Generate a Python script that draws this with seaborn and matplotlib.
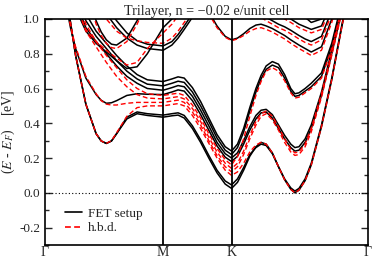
import pandas as pd
import matplotlib
matplotlib.use("Agg")
import matplotlib.pyplot as plt
from matplotlib.lines import Line2D
from matplotlib.ticker import MultipleLocator, FormatStrFormatter
import seaborn as sns

# high-symmetry points (hexagonal BZ, path G-M-K-G)
k_M = 0.577
k_K = 0.911
k_G2 = 1.577
tick_pos = [0.0, k_M, k_K, k_G2]
tick_lab = ["Γ", "M", "K", "Γ"]

k_path = [0.0, 0.05, 0.10, 0.125, 0.15, 0.20, 0.25, 0.275, 0.30, 0.325, 0.35, 0.40, 0.45, 0.50, 0.577,
          0.62, 0.65, 0.68, 0.72, 0.76, 0.80, 0.84, 0.88, 0.911,
          0.94, 0.97, 1.00, 1.03, 1.055, 1.08, 1.11, 1.14, 1.17, 1.20, 1.22, 1.24, 1.27, 1.30,
          1.35, 1.40, 1.45, 1.50, 1.577]

# FET setup bands (eV)
fet_1 = [2.3, 1.7, 1.19, 0.98, 0.79, 0.51, 0.34, 0.298, 0.284, 0.298, 0.34, 0.425, 0.455, 0.445, 0.435,
         0.443, 0.447, 0.43, 0.37, 0.29, 0.20, 0.115, 0.05, 0.025,
         0.06, 0.13, 0.21, 0.265, 0.29, 0.28, 0.23, 0.15, 0.075, 0.02, 0.0, 0.015, 0.07, 0.16,
         0.38, 0.65, 0.96, 1.25, 1.6]
fet_2 = [2.3, 1.7, 1.19, 0.98, 0.79, 0.51, 0.34, 0.298, 0.284, 0.298, 0.34, 0.435, 0.465, 0.455, 0.447,
         0.455, 0.46, 0.445, 0.385, 0.305, 0.215, 0.13, 0.068, 0.045,
         0.08, 0.145, 0.22, 0.26, 0.28, 0.272, 0.225, 0.15, 0.08, 0.028, 0.01, 0.025, 0.08, 0.17,
         0.39, 0.66, 0.97, 1.26, 1.6]
fet_3 = [1.5, 1.4, 1.1, 0.95, 0.83, 0.66, 0.565, 0.532, 0.515, 0.518, 0.53, 0.56, 0.57, 0.567, 0.565,
         0.58, 0.592, 0.585, 0.53, 0.45, 0.36, 0.27, 0.205, 0.18,
         0.21, 0.28, 0.36, 0.425, 0.46, 0.465, 0.43, 0.37, 0.31, 0.26, 0.24, 0.245, 0.29, 0.37,
         0.56, 0.80, 1.05, 1.3, 1.6]
fet_4 = [1.6, 1.45, 1.3, 1.2, 1.1, 0.95, 0.87, 0.835, 0.80, 0.765, 0.73, 0.67, 0.63, 0.60, 0.59,
         0.605, 0.617, 0.61, 0.555, 0.475, 0.385, 0.29, 0.225, 0.20,
         0.23, 0.30, 0.38, 0.445, 0.475, 0.48, 0.45, 0.39, 0.33, 0.28, 0.26, 0.265, 0.31, 0.39,
         0.58, 0.82, 1.07, 1.32, 1.6]
fet_5 = [1.7, 1.55, 1.35, 1.25, 1.15, 0.99, 0.90, 0.865, 0.83, 0.795, 0.76, 0.70, 0.655, 0.625, 0.615,
         0.63, 0.642, 0.635, 0.58, 0.50, 0.41, 0.315, 0.245, 0.22,
         0.26, 0.35, 0.47, 0.58, 0.655, 0.71, 0.735, 0.72, 0.66, 0.585, 0.555, 0.56, 0.585, 0.61,
         0.67, 0.84, 1.08, 1.3, 1.6]
fet_6 = [1.75, 1.6, 1.4, 1.3, 1.2, 1.03, 0.93, 0.895, 0.86, 0.825, 0.79, 0.73, 0.68, 0.65, 0.64,
         0.655, 0.667, 0.66, 0.605, 0.525, 0.43, 0.335, 0.265, 0.24,
         0.28, 0.37, 0.49, 0.60, 0.675, 0.73, 0.755, 0.74, 0.68, 0.60, 0.57, 0.575, 0.60, 0.63,
         0.69, 0.86, 1.10, 1.3, 1.6]
fet_7 = [1.8, 1.65, 1.4, 1.2, 1.06, 0.93, 0.86, 0.835, 0.81, 0.785, 0.76, 0.715, 0.725, 0.80, 0.95,
         1.0, 1.05, 1.09, 1.15, 1.2, 1.25, 1.25, 1.25, 1.25,
         1.22, 1.18, 1.12, 1.07, 1.03, 1.01, 0.99, 0.97, 0.955, 0.935, 0.92, 0.905, 0.885, 0.87,
         0.90, 1.05, 1.25, 1.45, 1.6]
fet_8 = [2.0, 1.8, 1.6, 1.5, 1.4, 1.2, 0.99, 0.925, 0.88, 0.855, 0.85, 0.89, 0.99, 1.12, 1.3,
         1.3, 1.3, 1.28, 1.22, 1.13, 1.04, 0.96, 0.90, 0.88,
         0.89, 0.915, 0.945, 0.965, 0.97, 0.96, 0.945, 0.925, 0.905, 0.88, 0.865, 0.85, 0.83, 0.81,
         0.84, 1.0, 1.2, 1.4, 1.6]
fet_9 = [2.0, 1.9, 1.7, 1.6, 1.5, 1.3, 1.15, 1.09, 1.03, 0.99, 0.95, 0.89, 0.85, 0.83, 0.82,
         0.85, 0.89, 0.94, 1.01, 1.08, 1.15, 1.22, 1.27, 1.3,
         1.28, 1.24, 1.2, 1.16, 1.13, 1.1, 1.07, 1.04, 1.02, 1.0, 0.985, 0.97, 0.955, 0.94,
         0.96, 1.1, 1.3, 1.5, 1.6]
fet_10 = [2.0, 1.9, 1.75, 1.65, 1.55, 1.35, 1.2, 1.14, 1.08, 1.03, 0.99, 0.92, 0.875, 0.855, 0.845,
          0.87, 0.91, 0.96, 1.03, 1.1, 1.18, 1.26, 1.32, 1.35,
          1.35, 1.33, 1.3, 1.25, 1.2, 1.17, 1.13, 1.1, 1.07, 1.05, 1.04, 1.03, 1.01, 0.98,
          1.0, 1.15, 1.35, 1.5, 1.6]

# h.b.d. bands (eV)
hbd_1 = [2.3, 1.7, 1.19, 0.98, 0.79, 0.51, 0.34, 0.298, 0.284, 0.30, 0.345, 0.44, 0.49, 0.50, 0.50,
         0.508, 0.513, 0.50, 0.445, 0.37, 0.285, 0.20, 0.13, 0.10,
         0.12, 0.17, 0.235, 0.275, 0.29, 0.28, 0.23, 0.15, 0.075, 0.02, 0.0, 0.015, 0.07, 0.16,
         0.38, 0.65, 0.96, 1.25, 1.6]
hbd_2 = [1.5, 1.4, 1.1, 0.96, 0.84, 0.67, 0.57, 0.53, 0.51, 0.505, 0.505, 0.515, 0.52, 0.52, 0.52,
         0.528, 0.533, 0.52, 0.465, 0.39, 0.30, 0.215, 0.15, 0.12,
         0.15, 0.22, 0.31, 0.39, 0.44, 0.455, 0.42, 0.36, 0.29, 0.235, 0.215, 0.22, 0.265, 0.35,
         0.55, 0.79, 1.04, 1.3, 1.6]
hbd_3 = [1.6, 1.45, 1.3, 1.2, 1.1, 0.93, 0.84, 0.795, 0.75, 0.71, 0.67, 0.61, 0.565, 0.545, 0.54,
         0.548, 0.553, 0.54, 0.485, 0.41, 0.32, 0.235, 0.17, 0.14,
         0.17, 0.24, 0.33, 0.41, 0.455, 0.47, 0.44, 0.38, 0.31, 0.25, 0.23, 0.235, 0.28, 0.37,
         0.57, 0.81, 1.06, 1.3, 1.6]
hbd_4 = [1.7, 1.55, 1.35, 1.25, 1.15, 0.97, 0.87, 0.83, 0.79, 0.755, 0.72, 0.65, 0.60, 0.57, 0.56,
         0.568, 0.573, 0.56, 0.505, 0.43, 0.34, 0.255, 0.19, 0.16,
         0.21, 0.31, 0.44, 0.56, 0.64, 0.70, 0.72, 0.70, 0.645, 0.575, 0.545, 0.55, 0.575, 0.60,
         0.66, 0.83, 1.07, 1.3, 1.6]
hbd_5 = [1.8, 1.65, 1.4, 1.22, 1.08, 0.94, 0.87, 0.845, 0.82, 0.797, 0.775, 0.735, 0.75, 0.83, 0.92,
         0.97, 1.02, 1.07, 1.13, 1.19, 1.24, 1.24, 1.24, 1.24,
         1.2, 1.15, 1.1, 1.05, 1.01, 0.99, 0.97, 0.95, 0.935, 0.915, 0.90, 0.885, 0.865, 0.85,
         0.88, 1.03, 1.23, 1.43, 1.6]
hbd_6 = [2.0, 1.8, 1.6, 1.5, 1.4, 1.18, 0.97, 0.905, 0.86, 0.835, 0.83, 0.87, 0.97, 1.1, 1.28,
         1.28, 1.28, 1.26, 1.2, 1.12, 1.03, 0.95, 0.895, 0.875,
         0.885, 0.905, 0.93, 0.945, 0.95, 0.94, 0.925, 0.905, 0.885, 0.86, 0.845, 0.83, 0.81, 0.79,
         0.82, 0.98, 1.2, 1.4, 1.6]
hbd_7 = [2.0, 1.9, 1.7, 1.6, 1.5, 1.3, 1.12, 1.06, 1.0, 0.965, 0.93, 0.89, 0.875, 0.865, 0.86,
         0.89, 0.93, 0.98, 1.05, 1.12, 1.19, 1.25, 1.27, 1.28,
         1.26, 1.22, 1.18, 1.14, 1.1, 1.08, 1.05, 1.02, 1.0, 0.98, 0.965, 0.95, 0.935, 0.92,
         0.94, 1.08, 1.28, 1.48, 1.6]

fet_bands = [fet_1, fet_2, fet_3, fet_4, fet_5, fet_6, fet_7, fet_8, fet_9, fet_10]
hbd_bands = [hbd_1, hbd_2, hbd_3, hbd_4, hbd_5, hbd_6, hbd_7]


def to_long(bands, tag):
    frames = []
    for i, vals in enumerate(bands):
        frames.append(pd.DataFrame({"k": k_path, "E": vals, "band": f"{tag}{i}"}))
    return pd.concat(frames, ignore_index=True)


df_fet = to_long(fet_bands, "fet")
df_hbd = to_long(hbd_bands, "hbd")

sns.set_style("ticks")
plt.rcParams["font.family"] = ["Liberation Serif", "DejaVu Serif"]
plt.rcParams["mathtext.fontset"] = "stix"
plt.rcParams["axes.unicode_minus"] = False

fig, ax = plt.subplots(figsize=(3.74, 2.60), dpi=100)
fig.subplots_adjust(left=0.120, right=0.984, bottom=0.058, top=0.927)

sns.lineplot(data=df_fet, x="k", y="E", units="band", estimator=None, sort=False,
             color="black", lw=1.1, ax=ax, legend=False)
sns.lineplot(data=df_hbd, x="k", y="E", units="band", estimator=None, sort=False,
             color="red", lw=1.0, linestyle=(0, (3.5, 2)), ax=ax, legend=False)

for xv in (k_M, k_K):
    ax.axvline(xv, color="black", lw=1.3, zorder=5)
ax.axhline(0.0, color="black", lw=0.8, ls=(0, (1, 2)), zorder=1)

ax.set_xlim(0, k_G2)
ax.set_ylim(-0.3, 1.0)
ax.set_xticks(tick_pos)
ax.set_xticklabels(tick_lab, fontsize=10)
ax.tick_params(axis="x", length=0, pad=1)
ax.yaxis.set_major_locator(MultipleLocator(0.2))
ax.yaxis.set_minor_locator(MultipleLocator(0.1))
ax.yaxis.set_major_formatter(FormatStrFormatter("%.1f"))
ax.tick_params(axis="y", which="both", direction="in", left=True, right=True, labelsize=9.5)
ax.tick_params(axis="y", which="major", length=5, width=1)
ax.tick_params(axis="y", which="minor", length=3, width=1)
for sp in ax.spines.values():
    sp.set_linewidth(1.2)
    sp.set_color("black")

ax.set_xlabel("")
ax.set_ylabel(r"($E$ - $E_F$)    [eV]", fontsize=10)
ax.yaxis.set_label_coords(-0.085, 0.5)
ax.set_title("Trilayer, n = \u22120.02 e/unit cell", fontsize=10.2, pad=3)

handles = [Line2D([], [], color="black", lw=1.2),
           Line2D([], [], color="red", lw=1.2, ls=(0, (3.5, 2)))]
ax.legend(handles, ["FET setup", "h.b.d."], loc="lower left",
          bbox_to_anchor=(0.045, 0.024), borderaxespad=0, borderpad=0.4,
          frameon=False, fontsize=9.5, handlelength=1.3, labelspacing=0.15,
          handletextpad=0.45)

fig.savefig("out.png", dpi=100)
